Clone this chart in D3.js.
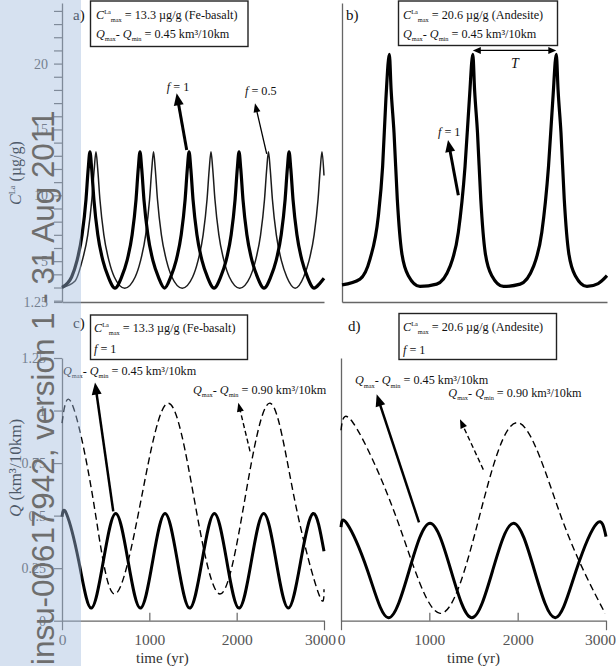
<!DOCTYPE html>
<html>
<head>
<meta charset="utf-8">
<script src="https://cdn.jsdelivr.net/npm/d3@7"></script>
<style>
body { margin: 0; background: #fff; }
svg text { font-family: "Liberation Serif", "Times New Roman", serif; }
</style>
</head>
<body>
<script>
// tick values
var years = [0, 1000, 2000, 3000];
var laTicks = [5, 10, 15, 20];
var qTicks = [0, 0.25, 0.5, 0.75, 1, 1.25];

// a) C La, Fe-basalt, f = 1 (thick) : [time yr, ug/g]
var laFeF1 = [[0,3.0],[110,3.8],[170,5.0],[230,7.0],[275,9.7],[300,12.0],[320,13.3],[340,12.0],[365,9.7],[410,7.0],[470,5.0],[530,3.8],[607,2.95],
  [683,3.8],[743,5.0],[803,7.0],[848,9.7],[873,12.0],[893,13.3],[913,12.0],[938,9.7],[983,7.0],[1043,5.0],[1103,3.8],[1174,2.95],
  [1245,3.8],[1305,5.0],[1365,7.0],[1410,9.7],[1435,12.0],[1455,13.3],[1475,12.0],[1500,9.7],[1545,7.0],[1605,5.0],[1665,3.8],[1741,2.95],
  [1817,3.8],[1877,5.0],[1937,7.0],[1982,9.7],[2007,12.0],[2027,13.3],[2047,12.0],[2072,9.7],[2117,7.0],[2177,5.0],[2237,3.8],[2313,2.95],
  [2390,3.8],[2450,5.0],[2510,7.0],[2555,9.7],[2580,12.0],[2600,13.3],[2620,12.0],[2645,9.7],[2690,7.0],[2750,5.0],[2810,3.8],[2886,2.95],[2950,3.3],[3000,3.7]];

// a) C La, Fe-basalt, f = 0.5 (thin)
var laFeF05 = [[0,3.0],[150,3.5],[230,5.0],[295,7.0],[342,9.7],[369,12.0],[389,13.3],[409,12.0],[434,9.7],[479,7.0],[539,5.0],[599,3.8],[718,2.95],
  [838,3.8],[898,5.0],[958,7.0],[1003,9.7],[1028,12.0],[1048,13.3],[1068,12.0],[1093,9.7],[1138,7.0],[1198,5.0],[1258,3.8],[1377,2.95],
  [1496,3.8],[1556,5.0],[1616,7.0],[1661,9.7],[1686,12.0],[1706,13.3],[1726,12.0],[1751,9.7],[1796,7.0],[1856,5.0],[1916,3.8],[2035,2.95],
  [2154,3.8],[2214,5.0],[2274,7.0],[2319,9.7],[2344,12.0],[2364,13.3],[2384,12.0],[2409,9.7],[2454,7.0],[2514,5.0],[2574,3.8],[2670,2.95],
  [2767,3.8],[2827,5.0],[2887,7.0],[2932,9.7],[2957,12.0],[2977,13.3],[3000,11.5]];

// b) C La, andesite, f = 1
var laAndF1 = [[0,3.2],[204,3.64],[317,5.15],[411,8.4],[460,12.2],[497,17.3],[536,20.7],[556,18.0],[589,14.75],[626,9.7],[676,5.66],[751,3.9],[883,3.08],
  [1072,3.26],[1223,4.6],[1317,7.2],[1393,12.2],[1442,17.3],[1481,20.7],[1501,18.0],[1534,14.75],[1571,9.7],[1621,5.66],[1696,3.9],[1828,3.08],
  [2017,3.26],[2168,4.6],[2262,7.2],[2338,12.2],[2387,17.3],[2426,20.7],[2446,18.0],[2479,14.75],[2516,9.7],[2566,5.66],[2641,3.9],[2773,3.08],[2900,3.3],[3000,3.9]];

// c) Q, Fe-basalt, 0.45 (solid) and 0.90 (dashed) : [time yr, km3/10km]
var qFe045 = [[0,0.495],[50,0.51],[191,0.285],[332,0.06],[474,0.285],[615,0.51],[756,0.285],[897,0.06],[1039,0.285],[1180,0.51],[1321,0.285],[1462,0.06],
  [1604,0.285],[1745,0.51],[1886,0.285],[2027,0.06],[2169,0.285],[2310,0.51],[2451,0.285],[2592,0.06],[2734,0.285],[2875,0.51],[3000,0.33]];
var qFe090 = [[0,0.94],[111,1.035],[355,0.581],[600,0.127],[908,0.581],[1217,1.035],[1513,0.581],[1809,0.127],[2095,0.581],[2382,1.035],[2661,0.581],[2940,0.127],[3000,0.15]];

// d) Q, andesite, 0.45 (solid) and 0.90 (dashed)
var qAnd045 = [[0,0.445],[64,0.464],[300,0.239],[536,0.014],[772,0.239],[1008,0.464],[1245,0.239],[1481,0.014],[1717,0.239],[1953,0.464],[2190,0.239],[2426,0.014],[2662,0.239],[2898,0.464],[3000,0.40]];
var qAnd090 = [[0,0.906],[136,0.942],[629,0.488],[1122,0.035],[1562,0.488],[2003,0.942],[2498,0.488],[2990,0.035]];

var w = 616, h = 666;
var svg = d3.select("body").append("svg").attr("width", w).attr("height", h);

var xA = d3.scaleLinear().domain([0, 3000]).range([62, 324]);
var xB = d3.scaleLinear().domain([0, 3000]).range([342, 607]);
var xC = d3.scaleLinear().domain([0, 3000]).range([62, 324]);
var xD = d3.scaleLinear().domain([0, 3000]).range([341, 606]);
var yLa = d3.scaleLinear().domain([1.9, 24.6]).range([302, 3]);
var yQ = d3.scaleLinear().domain([0, 1.25]).range([620.7, 358]);

var axisCol = "#666";

// text with italic / super / sub parts
function rich(g, x, y, parts, size, anchor) {
    var t = g.append("text").attr("x", x).attr("y", y).attr("font-size", size)
        .attr("fill", "#111").attr("text-anchor", anchor || "start");
    var shift = 0;
    parts.forEach(function (p) {
        var s = t.append("tspan").text(p.t);
        var target = p.sup ? -0.4 * size : (p.sub ? 0.25 * size : 0);
        s.attr("dy", target - shift);
        shift = target;
        if (p.sup || p.sub) s.attr("font-size", size * 0.52);
        if (p.it) s.attr("font-style", "italic");
    });
    return t;
}

function styleAxis(g) {
    g.select(".domain").attr("stroke", axisCol).attr("stroke-width", 1.3);
    g.selectAll(".tick line").attr("stroke", axisCol).attr("stroke-width", 1.2);
    g.selectAll(".tick text").attr("fill", "#555");
}

// ---- axes ----
// a
var ayA = svg.append("g").attr("transform", "translate(" + xA(0) + ",0)")
    .call(d3.axisLeft(yLa).tickValues(d3.range(2, 25).concat([1.9])).tickSize(8).tickSizeOuter(0)
        .tickFormat(function (d) { return d === 1.9 ? "1.25" : (laTicks.indexOf(d) >= 0 ? d : ""); }));
styleAxis(ayA);
ayA.attr("font-size", 14);
ayA.selectAll(".tick text").attr("x", -14);
var axA = svg.append("g").attr("transform", "translate(0," + yLa.range()[0] + ")")
    .call(d3.axisBottom(xA).tickValues([]).tickSizeOuter(0));
styleAxis(axA);

// b
var ayB = svg.append("g").attr("transform", "translate(" + xB(0) + ",0)")
    .call(d3.axisLeft(yLa).tickValues([]).tickSizeOuter(0));
styleAxis(ayB);
var axB = svg.append("g").attr("transform", "translate(0," + yLa.range()[0] + ")")
    .call(d3.axisBottom(xB).tickValues([]).tickSizeOuter(0));
styleAxis(axB);

// c and d
function timeAxis(xs, lastShift) {
    var g = svg.append("g").attr("transform", "translate(0," + yQ(0) + ")")
        .call(d3.axisBottom(xs).tickValues(years).tickSizeOuter(0).tickFormat(d3.format("d")));
    styleAxis(g);
    g.attr("font-size", 15.5);
    g.selectAll(".tick line").attr("y2", function (d) { return (d === 0 || d === 3000) ? 9.5 : -8; });
    g.selectAll(".tick text").attr("y", 24).attr("dy", 0)
        .attr("dx", function (d) { return d === 3000 ? lastShift : 0; });
    return g;
}
timeAxis(xC, -4);
timeAxis(xD, -6);

var ayC = svg.append("g").attr("transform", "translate(" + xC(0) + ",0)")
    .call(d3.axisLeft(yQ).tickValues(qTicks).tickSize(8).tickSizeOuter(0).tickFormat(function (d) { return String(d); }));
styleAxis(ayC);
ayC.attr("font-size", 14);
ayC.selectAll(".tick text").attr("x", -16);
var ayD = svg.append("g").attr("transform", "translate(" + xD(0) + ",0)")
    .call(d3.axisLeft(yQ).tickValues([]).tickSizeOuter(0));
styleAxis(ayD);

// axis titles
rich(svg.append("g").attr("transform", "translate(21,173) rotate(-90)"), 0, 0,
    [{t: "C", it: 1}, {t: "La", sup: 1}, {t: " (\u00b5g/g)"}], 16, "middle");
rich(svg.append("g").attr("transform", "translate(21,468) rotate(-90)"), 0, 0,
    [{t: "Q", it: 1}, {t: " (km\u00b3/10km)"}], 17, "middle");
svg.append("text").attr("x", xC(1150)).attr("y", 662.5).attr("text-anchor", "middle")
    .attr("font-size", 15).attr("fill", "#333").text("time (yr)");
svg.append("text").attr("x", xD(1500)).attr("y", 662.5).attr("text-anchor", "middle")
    .attr("font-size", 15).attr("fill", "#333").text("time (yr)");

// ---- curves ----
function curve(data, xs, ys, kind, width, dash, color) {
    var line = d3.line().x(function (d) { return xs(d[0]); }).y(function (d) { return ys(d[1]); }).curve(kind);
    svg.append("path").datum(data).attr("d", line).attr("fill", "none")
        .attr("stroke", color || "#000").attr("stroke-width", width)
        .attr("stroke-dasharray", dash || null).attr("stroke-linejoin", "round");
}
curve(laFeF05, xA, yLa, d3.curveMonotoneX, 1.5, null, "#1c1c1c");
curve(laFeF1, xA, yLa, d3.curveMonotoneX, 3.2);
curve(laAndF1, xB, yLa, d3.curveMonotoneX, 3.2);
curve(qFe090, xC, yQ, d3.curveNatural, 1.4, "7,4");
curve(qFe045, xC, yQ, d3.curveNatural, 3);
curve(qAnd090, xD, yQ, d3.curveNatural, 1.4, "7,4");
curve(qAnd045, xD, yQ, d3.curveNatural, 3);

// ---- arrows ----
function arrow(x1, y1, x2, y2, width, dash, hl, hw, both) {
    var dx = x2 - x1, dy = y2 - y1, L = Math.sqrt(dx * dx + dy * dy);
    var ux = dx / L, uy = dy / L, nx = -uy, ny = ux;
    function head(tx, ty, sx, sy) {
        var bx = tx - sx * hl, by = ty - sy * hl;
        svg.append("path").attr("d", "M" + tx + "," + ty + "L" + (bx + nx * hw / 2) + "," + (by + ny * hw / 2)
            + "L" + (bx - nx * hw / 2) + "," + (by - ny * hw / 2) + "Z").attr("fill", "#000");
    }
    var sx = both ? x1 + ux * (hl - 1) : x1, sy = both ? y1 + uy * (hl - 1) : y1;
    svg.append("line").attr("x1", sx).attr("y1", sy)
        .attr("x2", x2 - ux * (hl - 1)).attr("y2", y2 - uy * (hl - 1))
        .attr("stroke", "#000").attr("stroke-width", width).attr("stroke-dasharray", dash || null);
    head(x2, y2, ux, uy);
    if (both) head(x1, y1, -ux, -uy);
}

var notes = [
    {xs: xA, ys: yLa, from: [1428, 13.44], to: [1313, 17.74], w: 3, hl: 12, hw: 10},
    {xs: xA, ys: yLa, from: [2344, 13.14], to: [2210, 16.99], w: 1.3, hl: 9, hw: 7},
    {xs: xB, ys: yLa, from: [1317, 10.0], to: [1200, 14.2], w: 3, hl: 12, hw: 10},
    {xs: xB, ys: yLa, from: [1481, 21.0], to: [2426, 21.0], w: 1.4, hl: 8, hw: 7, both: true},
    {xs: xC, ys: yQ, from: [587, 0.52], to: [378, 1.133], w: 2.5, hl: 12, hw: 10},
    {xs: xC, ys: yQ, from: [2153, 0.806], to: [2019, 1.037], w: 1.4, hl: 9, hw: 7, dash: "5,3"},
    {xs: xD, ys: yQ, from: [883, 0.468], to: [404, 1.077], w: 2.5, hl: 12, hw: 10},
    {xs: xD, ys: yQ, from: [1611, 0.719], to: [1347, 0.958], w: 1.4, hl: 9, hw: 7, dash: "5,3"}
];
notes.forEach(function (n) {
    arrow(n.xs(n.from[0]), n.ys(n.from[1]), n.xs(n.to[0]), n.ys(n.to[1]), n.w, n.dash, n.hl, n.hw, n.both);
});

// ---- labels ----
var fs = 12.2;
var cMaxFe = [{t: "C", it: 1}, {t: "La", sup: 1}, {t: "max", sub: 1}, {t: " = 13.3 \u00b5g/g (Fe-basalt)"}];
var cMaxAnd = [{t: "C", it: 1}, {t: "La", sup: 1}, {t: "max", sub: 1}, {t: " = 20.6 \u00b5g/g (Andesite)"}];
function dq(v) { return [{t: "Q", it: 1}, {t: "max", sub: 1}, {t: "- "}, {t: "Q", it: 1}, {t: "min", sub: 1}, {t: " = " + v + " km\u00b3/10km"}]; }
var fOne = [{t: "f", it: 1}, {t: " = 1"}];

// boxes
function box(x0, y0, x1, y1) {
    svg.append("rect").attr("x", x0).attr("y", y0).attr("width", x1 - x0).attr("height", y1 - y0)
        .attr("fill", "#fff").attr("stroke", "#222").attr("stroke-width", 1.4);
}
box(90.5, 1, 248, 46.5);
box(398.5, 1, 557.5, 45.5);
box(90.5, 315, 247.5, 359.5);
box(399, 313.5, 556.5, 359.5);

rich(svg, 96, 18.5, cMaxFe, fs);
rich(svg, 96, 38, dq("0.45"), fs);
rich(svg, 403, 18.5, cMaxAnd, fs);
rich(svg, 403, 38, dq("0.45"), fs);
rich(svg, 94, 332, cMaxFe, fs);
rich(svg, 94, 353, fOne, fs);
rich(svg, 403, 331, cMaxAnd, fs);
rich(svg, 403, 354, fOne, fs);

var panelTags = [["a)", 73, 19.5], ["b)", 346, 19.5], ["c)", 73, 328], ["d)", 348, 331]];
panelTags.forEach(function (p) {
    svg.append("text").attr("x", p[1]).attr("y", p[2]).attr("font-size", 15).attr("fill", "#111").text(p[0]);
});

rich(svg, xA(1200), yLa(17.9), fOne, fs);
rich(svg, xA(2095), yLa(17.6), [{t: "f", it: 1}, {t: " = 0.5"}], fs);
rich(svg, xB(1087), yLa(14.5), fOne, fs);
svg.append("text").attr("x", xB(1958)).attr("y", yLa(19.66)).attr("text-anchor", "middle")
    .attr("font-size", 14).attr("font-style", "italic").attr("fill", "#111").text("T");
rich(svg, xC(11), yQ(1.167), dq("0.45"), fs);
rich(svg, xC(1500), yQ(1.08), dq("0.90"), fs);
rich(svg, xD(158), yQ(1.124), dq("0.45"), fs);
rich(svg, xD(1215), yQ(1.0625), dq("0.90"), fs);

// ---- archive stamp on the left ----
svg.append("rect").attr("x", 0).attr("y", 0).attr("width", 81).attr("height", h)
    .attr("fill", "rgb(160,185,220)").attr("fill-opacity", 0.43);
svg.append("text").attr("transform", "translate(54,665) rotate(-90)")
    .style("font-family", '"Liberation Sans", Arial, sans-serif').attr("font-size", 31.4)
    .attr("fill", "#6e6e6e").text("insu-00617942, version 1 - 31 Aug 2011");
</script>
</body>
</html>
